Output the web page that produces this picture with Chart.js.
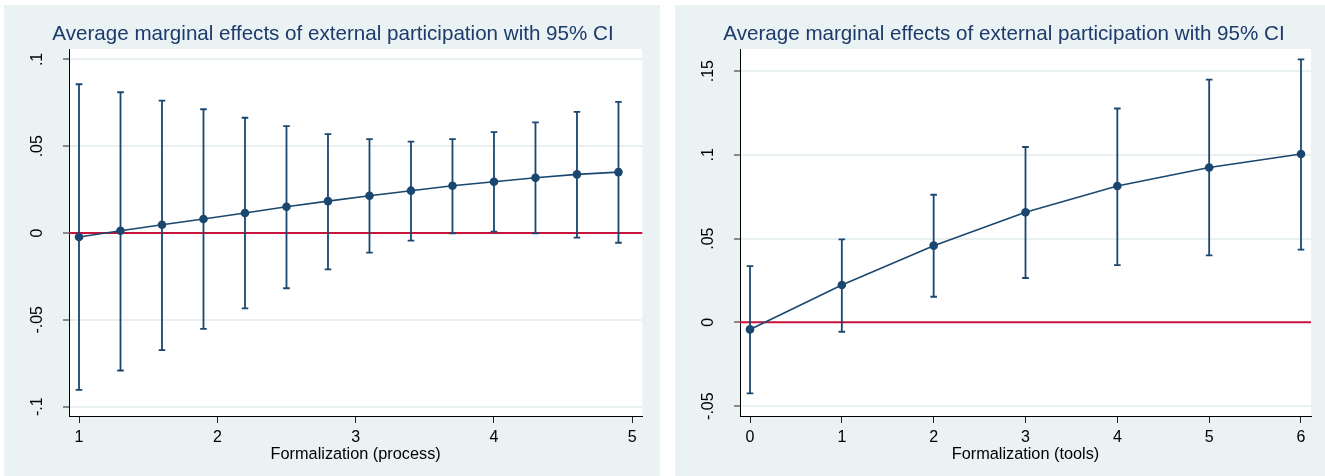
<!DOCTYPE html>
<html><head><meta charset="utf-8">
<script src="https://cdn.jsdelivr.net/npm/chart.js@4.4.0/dist/chart.umd.min.js"></script>
<style>
html,body{margin:0;padding:0;background:#fff;width:1325px;height:476px;overflow:hidden}
.panel{position:absolute;background:#eaf2f3}
#p1{left:4px;top:5px;width:656px;height:471px}
#p2{left:675px;top:5px;width:650px;height:471px}
canvas{display:block}
</style></head><body>
<div class="panel" id="p1"><canvas id="c1"></canvas></div>
<div class="panel" id="p2"><canvas id="c2"></canvas></div>
<script>
// ---- data ----
const titleText = 'Average marginal effects of external participation with 95% CI';

const processTitle = 'Formalization (process)';
const processX    = [1.0, 1.3, 1.6, 1.9, 2.2, 2.5, 2.8, 3.1, 3.4, 3.7, 4.0, 4.3, 4.6, 4.9];
const processMean = [-0.0023, 0.0013, 0.0048, 0.0081, 0.0115, 0.0151, 0.0184, 0.0215, 0.0244, 0.0272, 0.0295, 0.0318, 0.0338, 0.0351];
const processLo   = [-0.0903, -0.0792, -0.0675, -0.0552, -0.0434, -0.0318, -0.0209, -0.0113, -0.0044, -0.0002, 0.0008, -0.0002, -0.0027, -0.0056];
const processHi   = [0.0857, 0.0811, 0.0763, 0.0713, 0.0664, 0.0616, 0.0570, 0.0541, 0.0527, 0.0541, 0.0581, 0.0637, 0.0698, 0.0756];
const processXTicks  = [1, 2, 3, 4, 5];
const processYTicks  = [-0.1, -0.05, 0, 0.05, 0.1];
const processYLabels = ['-.1', '-.05', '0', '.05', '.1'];

const toolsTitle = 'Formalization (tools)';
const toolsX    = [0, 1, 2, 3, 4, 5, 6];
const toolsMean = [-0.0042, 0.0223, 0.0458, 0.0657, 0.0814, 0.0925, 0.1005];
const toolsLo   = [-0.0424, -0.0056, 0.0153, 0.0265, 0.0342, 0.0400, 0.0434];
const toolsHi   = [0.0336, 0.0495, 0.0762, 0.1047, 0.1277, 0.1449, 0.1570];
const toolsXTicks  = [0, 1, 2, 3, 4, 5, 6];
const toolsYTicks  = [-0.05, 0, 0.05, 0.1, 0.15];
const toolsYLabels = ['-.05', '0', '.05', '.1', '.15'];

// ---- styles ----
const NAVY = '#1a476f';
const RED = '#c8143c';
const FONT = '"Liberation Sans", Arial, Helvetica, sans-serif';

const plotBg = {
  id: 'plotBg',
  beforeDraw(chart) {
    const {ctx, chartArea: a} = chart;
    ctx.save();
    ctx.fillStyle = '#ffffff';
    ctx.fillRect(a.left, a.top, a.right - a.left, a.bottom - a.top);
    ctx.restore();
  }
};
const zeroLine = {
  id: 'zeroLine',
  beforeDatasetsDraw(chart) {
    const {ctx, chartArea: a, scales} = chart;
    const y = scales.y.getPixelForValue(0);
    ctx.save();
    ctx.strokeStyle = RED;
    ctx.lineWidth = 2;
    ctx.beginPath();
    ctx.moveTo(a.left, y);
    ctx.lineTo(a.right, y);
    ctx.stroke();
    ctx.restore();
  }
};
const errBars = {
  id: 'errBars',
  beforeDatasetsDraw(chart, args, opts) {
    const {ctx, scales} = chart;
    const xs = opts.x, lo = opts.lo, hi = opts.hi;
    ctx.save();
    ctx.strokeStyle = NAVY;
    ctx.lineWidth = 1.8;
    ctx.lineCap = 'butt';
    const cap = 3.3;
    for (let i = 0; i < xs.length; i++) {
      const px = scales.x.getPixelForValue(xs[i]);
      const y1 = scales.y.getPixelForValue(lo[i]);
      const y2 = scales.y.getPixelForValue(hi[i]);
      ctx.beginPath();
      ctx.moveTo(px, y1); ctx.lineTo(px, y2);
      ctx.moveTo(px - cap, y1); ctx.lineTo(px + cap, y1);
      ctx.moveTo(px - cap, y2); ctx.lineTo(px + cap, y2);
      ctx.stroke();
    }
    ctx.restore();
  }
};

function makeChart(id, cfg) {
  const pts = cfg.x.map((x, i) => ({x: x, y: cfg.mean[i]}));
  return new Chart(document.getElementById(id), {
    type: 'line',
    data: {
      datasets: [{
        data: pts,
        borderColor: NAVY,
        borderWidth: 1.6,
        backgroundColor: NAVY,
        pointBackgroundColor: NAVY,
        pointBorderColor: NAVY,
        pointBorderWidth: 0,
        pointRadius: 4.3,
        tension: 0,
        fill: false
      }]
    },
    options: {
      responsive: true,
      maintainAspectRatio: false,
      animation: false,
      layout: {padding: {left: cfg.padL, right: cfg.padR, top: 0, bottom: 0}},
      plugins: {
        legend: {display: false},
        tooltip: {enabled: false},
        title: {
          display: true,
          text: titleText,
          color: '#1c3a6b',
          font: {family: FONT, size: 20.6, weight: 'normal'},
          padding: {top: 17.1, bottom: 2.2}
        },
        errBars: {x: cfg.x, lo: cfg.lo, hi: cfg.hi}
      },
      scales: {
        x: {
          type: 'linear',
          min: cfg.xMin, max: cfg.xMax,
          afterBuildTicks: s => { s.ticks = cfg.xTicks.map(v => ({value: v})); },
          afterFit: s => { s.height = 60; },
          ticks: {
            autoSkip: false, maxRotation: 0, minRotation: 0,
            color: '#000', padding: 4.6,
            font: {family: FONT, size: 16},
            callback: v => String(v)
          },
          grid: {drawOnChartArea: false, tickColor: '#222', tickLength: 7, tickWidth: 1},
          border: {color: '#000', width: 1},
          title: {
            display: true, text: cfg.xTitle, color: '#000',
            font: {family: FONT, size: 16.3},
            padding: {top: 0, bottom: 12.2}
          }
        },
        y: {
          type: 'linear',
          min: cfg.yMin, max: cfg.yMax,
          afterBuildTicks: s => { s.ticks = cfg.yTicks.map(v => ({value: v})); },
          afterFit: s => { s.width = cfg.yWidth; },
          ticks: {
            autoSkip: false, minRotation: 90, maxRotation: 90,
            crossAlign: 'center',
            color: '#000', padding: 11.5,
            font: {family: FONT, size: 16},
            callback: v => cfg.yLabels[cfg.yTicks.indexOf(v)]
          },
          grid: {color: '#e8f0f2', lineWidth: 2, tickColor: '#222', tickLength: 6, tickWidth: 1},
          border: {color: '#000', width: 1}
        }
      }
    },
    plugins: [plotBg, zeroLine, errBars]
  });
}

makeChart('c1', {
  x: processX, mean: processMean, lo: processLo, hi: processHi,
  xTicks: processXTicks, yTicks: processYTicks, yLabels: processYLabels,
  xTitle: processTitle,
  xMin: 0.9277, xMax: 5.0723, yMin: -0.1054, yMax: 0.1060,
  padL: 19.7, padR: 17.7, yWidth: 45.3
});
makeChart('c2', {
  x: toolsX, mean: toolsMean, lo: toolsLo, hi: toolsHi,
  xTicks: toolsXTicks, yTicks: toolsYTicks, yLabels: toolsYLabels,
  xTitle: toolsTitle,
  xMin: -0.1089, xMax: 6.1089, yMin: -0.0559, yMax: 0.1632,
  padL: 22, padR: 14, yWidth: 43
});
</script>
</body></html>
